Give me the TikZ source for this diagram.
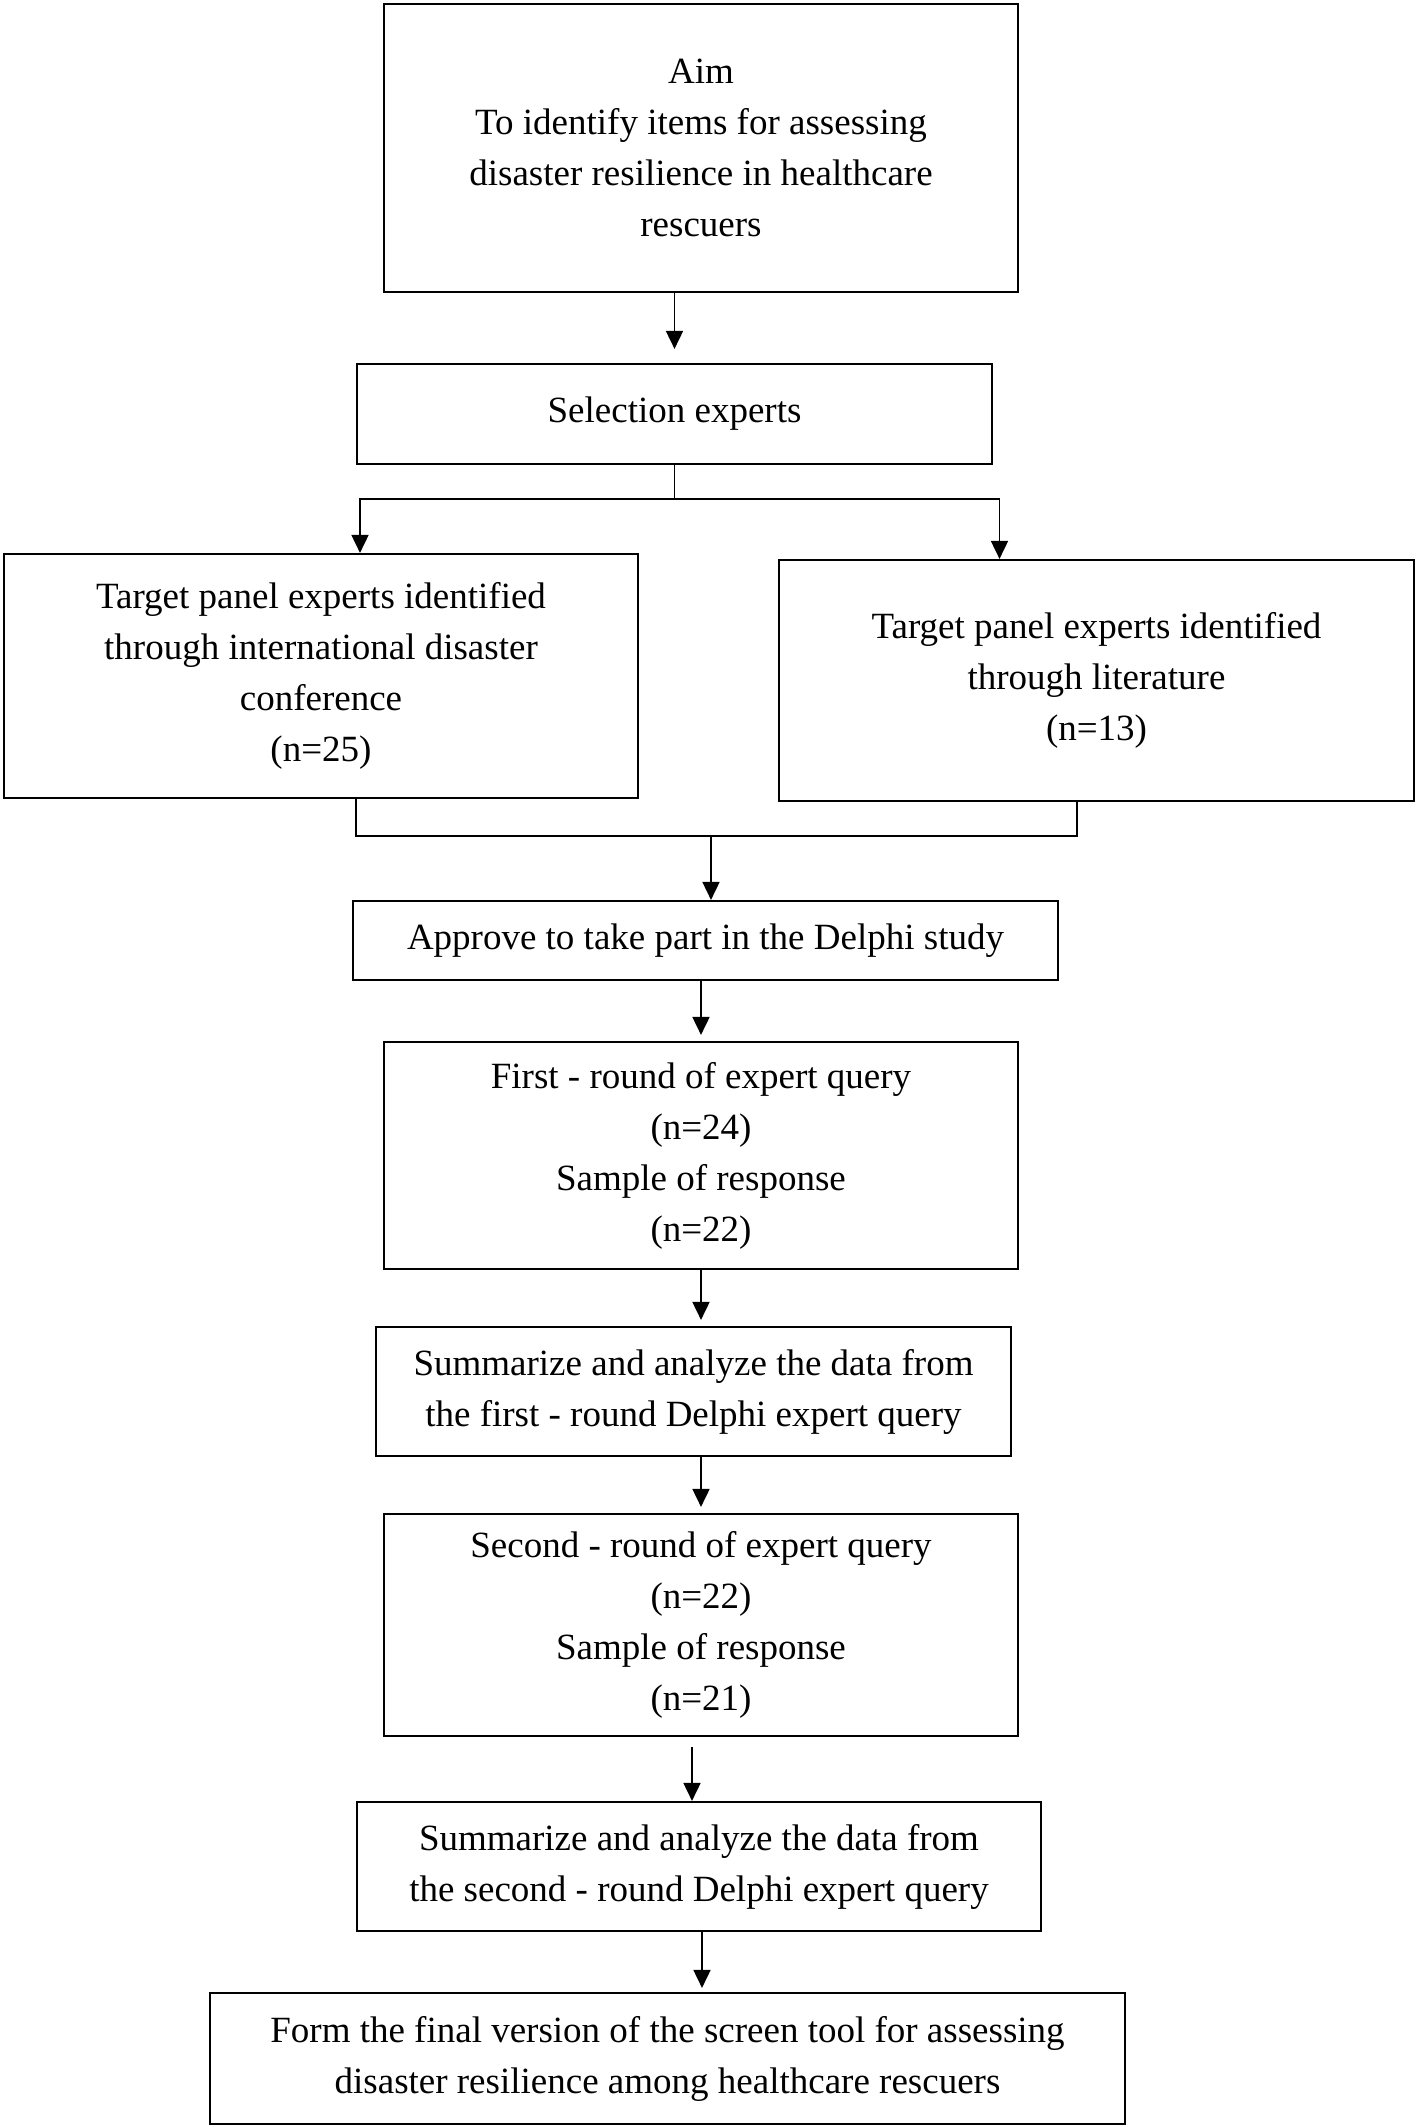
\documentclass[tikz,border=0pt]{standalone}
\usepackage{fontspec}
\setmainfont{Liberation Serif}
\usepackage{tikz}
\usetikzlibrary{positioning,arrows.meta,calc}
\tikzset{
    x=0.5pt,
    y=-0.5pt,
    block/.style = {
        draw,
        shape=rectangle,
        align=center,
        inner sep=0pt,
        line width=1.1pt,
        font=\fontsize{18.5}{25.5}\selectfont
    },
    link/.style = {
        line width=0.9pt
    },
    >={Triangle[length=9pt,width=8.5pt]},
}
\begin{document}
\begin{tikzpicture}
            \fill[white] (0,0) rectangle (1418,2127);
            \useasboundingbox (0,0) rectangle (1418,2127);

            \node[block, minimum width=317pt, minimum height=144pt] (aim) at (701,148)
                {Aim\\To identify items for assessing\\disaster resilience in healthcare\\rescuers};
            \node[block, minimum width=317.5pt, minimum height=50pt] (sel) at (674.5,414)
                {Selection experts};
            \node[block, minimum width=317pt, minimum height=122pt] (left) at (321,676)
                {Target panel experts identified\\through international disaster\\conference\\(n=25)};
            \node[block, minimum width=317.5pt, minimum height=120.5pt] (right) at (1096.5,680.5)
                {Target panel experts identified\\through literature\\(n=13)};
            \node[block, minimum width=352.5pt, minimum height=39.5pt] (approve) at (705.5,940.5)
                {Approve to take part in the Delphi study};
            \node[block, minimum width=317pt, minimum height=113.5pt] (first) at (701,1155.5)
                {First - round of expert query\\(n=24)\\Sample of response\\(n=22)};
            \node[block, minimum width=317.5pt, minimum height=64.5pt] (sum1) at (693.5,1391.5)
                {Summarize and analyze the data from\\the first - round Delphi expert query};
            \node[block, minimum width=317pt, minimum height=111pt] (second) at (701,1625)
                {Second - round of expert query\\(n=22)\\Sample of response\\(n=21)};
            \node[block, minimum width=342pt, minimum height=64.5pt] (sum2) at (699,1866.5)
                {Summarize and analyze the data from\\the second - round Delphi expert query};
            \node[block, minimum width=457.5pt, minimum height=65.5pt] (final) at (667.5,2058.5)
                {Form the final version of the screen tool for assessing\\disaster resilience among healthcare rescuers};

            \coordinate (split) at ($(sel.south)+(0,34)$);
            \coordinate (merge) at ($(approve.north)+(5.5,-64)$);

            \path[draw, link, ->, shorten >=7pt] (aim.south -| sel.north) -- (sel.north);
            \path[draw, link] (sel.south) -- (split);
            \path[draw, link, ->] (split) -| ([xshift=19.5pt]left.north);
            \path[draw, link, ->] (split) -| ([xshift=-48.5pt]right.north);
            \path[draw, link] ([xshift=17.5pt]left.south) |- (merge);
            \path[draw, link] ([xshift=-9.75pt]right.south) |- (merge);
            \path[draw, link, ->] (merge) -- (merge |- approve.north);
            \path[draw, link, ->, shorten >=3pt] (approve.south -| first.north) -- (first.north);
            \path[draw, link, ->, shorten >=3pt] (first.south) -- (first.south |- sum1.north);
            \path[draw, link, ->, shorten >=3pt] (sum1.south -| second.north) -- (second.north);
            \path[draw, link, ->, shorten <=5pt] ([xshift=-4.5pt]second.south) -- ([xshift=-4.5pt]second.south |- sum2.north);
            \path[draw, link, ->, shorten >=2pt] ([xshift=1.5pt]sum2.south) -- ([xshift=1.5pt]sum2.south |- final.north);
        \end{tikzpicture}
\end{document}
